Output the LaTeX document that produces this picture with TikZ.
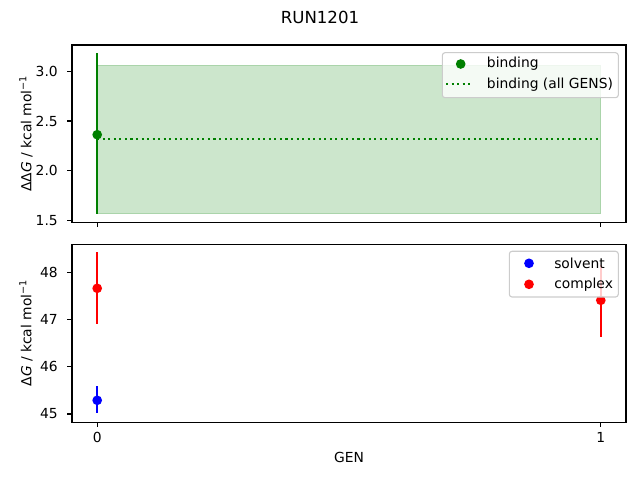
\documentclass[tikz,border=0pt]{standalone}
\usepackage{fontspec}
\setmainfont{DejaVu Sans}
\definecolor{mplgreen}{RGB}{0,128,0}
\definecolor{bandgreen}{RGB}{204,230,204}
\definecolor{bandedge}{RGB}{170,212,170}
\definecolor{legendedge}{RGB}{204,204,204}
\tikzstyle{axesbox} = [draw, line width=0.8pt]
\tikzstyle{tickline} = [draw, line width=0.8pt]
\tikzstyle{ticklabel} = [inner sep=0pt, font=\fontsize{10}{12}\selectfont]
\tikzstyle{errbar} = [line width=1.5pt]
\tikzstyle{datapoint} = [circle, inner sep=0pt, minimum size=7pt]
\tikzstyle{legendbox} = [draw=legendedge, line width=0.8pt, fill=white,
    fill opacity=0.8, rounded corners=2pt]
\tikzstyle{legendtext} = [anchor=west, inner sep=0pt, font=\fontsize{10}{12}\selectfont]
\tikzstyle{axislabel} = [inner sep=0pt, font=\fontsize{10}{12}\selectfont]
\begin{document}
\begin{tikzpicture}[x=0.01in, y=-0.01in]
	\useasboundingbox (0,0) rectangle (640,480);
	
		\node [font=\fontsize{12}{14}\selectfont] (title) at (320,17) {RUN1201};
		
		% upper panel: binding
		\filldraw [fill=bandgreen, draw=bandedge, line width=0.7pt] (97.2,65.7) rectangle (600.8,213.7);
		\draw [mplgreen, line width=1.5pt, dash pattern=on 1.5pt off 2.5pt] (97.2,139) -- (600.8,139);
		\draw [errbar, mplgreen] (97.2,53.3) -- (97.2,214.3);
		\node [datapoint, fill=mplgreen] (bind0) at (97.2,134.7) {};
		
		\draw [axesbox] (72,45) rectangle (626,222.5);
		\foreach \y/\v in {220.3/1.5, 170.6/2.0, 121.0/2.5, 71.3/3.0} {
			\draw [tickline] (67.1,\y) -- (72,\y);
			\node [ticklabel, anchor=east] at (58,\y) {\v};
		}
		\draw [tickline] (97.2,222.5) -- (97.2,227.4);
		\draw [tickline] (600.8,222.5) -- (600.8,227.4);
		\node [axislabel, rotate=90] (ddglabel) at (26,133.5) {ΔΔ\textit{G} / kcal mol\textsuperscript{−1}};
		
		\draw [legendbox] (442.3,52.7) rectangle (618.3,97.7);
		\node [datapoint, fill=mplgreen] (legbind) at (460.7,64) {};
		\node [legendtext] (legbindtext) at (486.7,64) {binding};
		\draw [mplgreen, line width=1.5pt, dash pattern=on 1.5pt off 2.5pt] (446,84.3) -- (470.7,84.3);
		\node [legendtext] (legalltext) at (486.7,84.3) {binding (all GENS)};
		
		% lower panel: solvent and complex
		\draw [errbar, red] (97.2,252.5) -- (97.2,323.8);
		\node [datapoint, fill=red] (cplx0) at (97.2,288.3) {};
		\draw [errbar, blue] (97.2,386.3) -- (97.2,413.5);
		\node [datapoint, fill=blue] (solv0) at (97.2,400.3) {};
		\draw [errbar, red] (600.8,265) -- (600.8,337.3);
		\node [datapoint, fill=red] (cplx1) at (600.8,300.3) {};
		
		\draw [axesbox] (72,244.3) rectangle (626,422.3);
		\foreach \y/\v in {414/45, 366.8/46, 319.5/47, 272.3/48} {
			\draw [tickline] (67.1,\y) -- (72,\y);
			\node [ticklabel, anchor=east] at (58,\y) {\v};
		}
		\draw [tickline] (97.2,422.3) -- (97.2,427.2);
		\draw [tickline] (600.8,422.3) -- (600.8,427.2);
		\node [ticklabel] (xzero) at (97.2,437.5) {0};
		\node [ticklabel] (xone) at (600.8,437.5) {1};
		\node [axislabel] (genlabel) at (349,457) {GEN};
		\node [axislabel, rotate=90] (dglabel) at (26,333) {Δ\textit{G} / kcal mol\textsuperscript{−1}};
		
		\draw [legendbox] (509.3,251.3) rectangle (618.3,297);
		\node [datapoint, fill=blue] (legsolv) at (529,263.3) {};
		\node [legendtext] (legsolvtext) at (554,263.3) {solvent};
		\node [datapoint, fill=red] (legcplx) at (529,284.3) {};
		\node [legendtext] (legcplxtext) at (554,284.3) {complex};
	\end{tikzpicture}
\end{document}
